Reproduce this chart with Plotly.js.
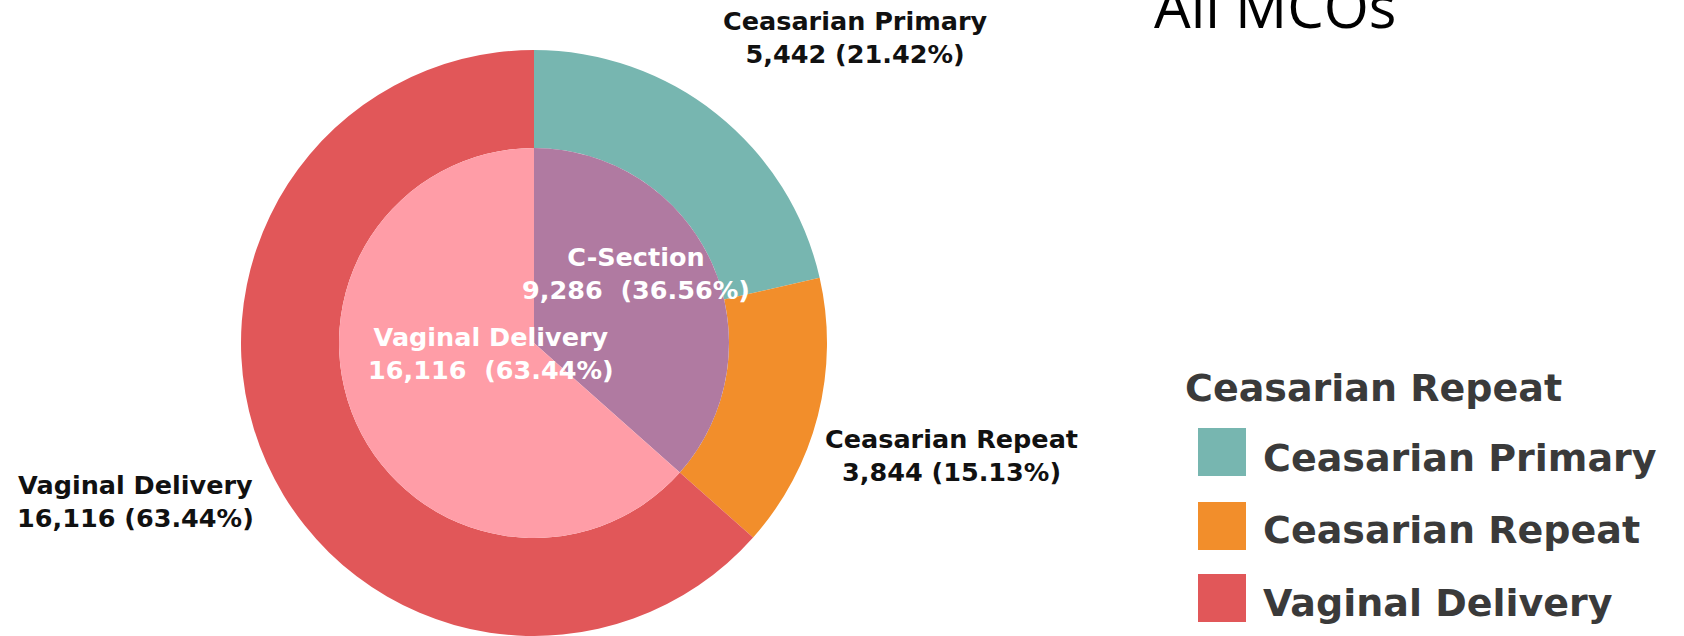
<!DOCTYPE html>
<html>
<head>
<meta charset="utf-8">
<script src="https://cdn.plot.ly/plotly-3.0.1.min.js"></script>
<style>
  html, body { margin: 0; padding: 0; background: #ffffff; }
  #chart { width: 1684px; height: 636px; }
</style>
</head>
<body>
<div id="chart"></div>
<script>
// ---- Data ----
const chartTitle = 'All MCOs';
const legendTitle = 'Ceasarian Repeat';
const outerLabels = ['Ceasarian Primary', 'Ceasarian Repeat', 'Vaginal Delivery'];
const outerValues = [5442, 3844, 16116];
const outerColors = ['#77b6b0', '#f28e2b', '#e15759'];
const innerLabels = ['C-Section', 'Vaginal Delivery'];
const innerValues = [9286, 16116];
const innerColors = ['#b07aa1', '#ff9da7'];

// ---- Layout helpers ----
const W = 1684, H = 636;
const px = x => x / W;
const py = y => 1 - y / H;
const fmt = v => v.toLocaleString('en-US');
const total = arr => arr.reduce((a, b) => a + b, 0);
const pct = (v, arr) => (100 * v / total(arr)).toFixed(2) + '%';

const FONT = 'DejaVu Sans, Verdana, sans-serif';

// pie geometry (pixels)
const cx = 534, cy = 343, rOuter = 293, rInner = 195;

const outerTrace = {
  type: 'pie',
  labels: outerLabels,
  values: outerValues,
  marker: { colors: outerColors, line: { width: 0 } },
  sort: false,
  direction: 'clockwise',
  rotation: 0,
  hole: rInner / rOuter,
  textinfo: 'none',
  hoverinfo: 'label+value+percent',
  showlegend: false,
  domain: { x: [px(cx - rOuter), px(cx + rOuter)], y: [py(cy + rOuter), py(cy - rOuter)] }
};

const innerTrace = {
  type: 'pie',
  labels: innerLabels,
  values: innerValues,
  marker: { colors: innerColors, line: { width: 0 } },
  sort: false,
  direction: 'clockwise',
  rotation: 0,
  textinfo: 'none',
  hoverinfo: 'label+value+percent',
  showlegend: false,
  domain: { x: [px(cx - rInner), px(cx + rInner)], y: [py(cy + rInner), py(cy - rInner)] }
};

// label anchor positions (pixels)
const outerLabelPos = [[855, 38], [951, 455], [135, 501]];
const innerLabelPos = [[636, 273], [491, 353]];

const annotations = [];
outerLabels.forEach((lab, i) => {
  annotations.push({
    xref: 'paper', yref: 'paper',
    x: px(outerLabelPos[i][0]), y: py(outerLabelPos[i][1]),
    xanchor: 'center', yanchor: 'middle', showarrow: false,
    text: '<b>' + lab + '</b><br><b>' + fmt(outerValues[i]) + ' (' + pct(outerValues[i], outerValues) + ')</b>',
    font: { family: FONT, size: 25.5, color: '#111111' }
  });
});
innerLabels.forEach((lab, i) => {
  annotations.push({
    xref: 'paper', yref: 'paper',
    x: px(innerLabelPos[i][0]), y: py(innerLabelPos[i][1]),
    xanchor: 'center', yanchor: 'middle', showarrow: false,
    text: '<b>' + lab + '</b><br><b>' + fmt(innerValues[i]) + '\u00a0 (' + pct(innerValues[i], innerValues) + ')</b>',
    font: { family: FONT, size: 25.5, color: '#ffffff' }
  });
});

// title
annotations.push({
  xref: 'paper', yref: 'paper', x: px(1275), y: py(5),
  xanchor: 'center', yanchor: 'middle', showarrow: false,
  text: chartTitle,
  font: { family: 'Open Sans, sans-serif', size: 58, color: '#000000' }
});

// custom legend
annotations.push({
  xref: 'paper', yref: 'paper', x: px(1183), y: py(388),
  xanchor: 'left', yanchor: 'middle', showarrow: false,
  text: '<b>' + legendTitle + '</b>',
  font: { family: FONT, size: 38, color: '#3a3a3a' }
});
const legendRows = [456, 528, 601];
const swatchRows = [452, 526, 598];
const shapes = [];
outerLabels.forEach((lab, i) => {
  annotations.push({
    xref: 'paper', yref: 'paper', x: px(1261), y: py(legendRows[i] + 2),
    xanchor: 'left', yanchor: 'middle', showarrow: false,
    text: '<b>' + lab + '</b>',
    font: { family: FONT, size: 38, color: '#3a3a3a' }
  });
  shapes.push({
    type: 'rect', xref: 'paper', yref: 'paper',
    x0: px(1198), x1: px(1246), y0: py(swatchRows[i] + 24), y1: py(swatchRows[i] - 24),
    fillcolor: outerColors[i], line: { width: 0 }
  });
});

const layout = {
  width: W, height: H,
  margin: { l: 0, r: 0, t: 0, b: 0 },
  paper_bgcolor: '#ffffff',
  showlegend: false,
  annotations: annotations,
  shapes: shapes
};

Plotly.newPlot('chart', [outerTrace, innerTrace], layout, { displayModeBar: false, staticPlot: true });
</script>
</body>
</html>
